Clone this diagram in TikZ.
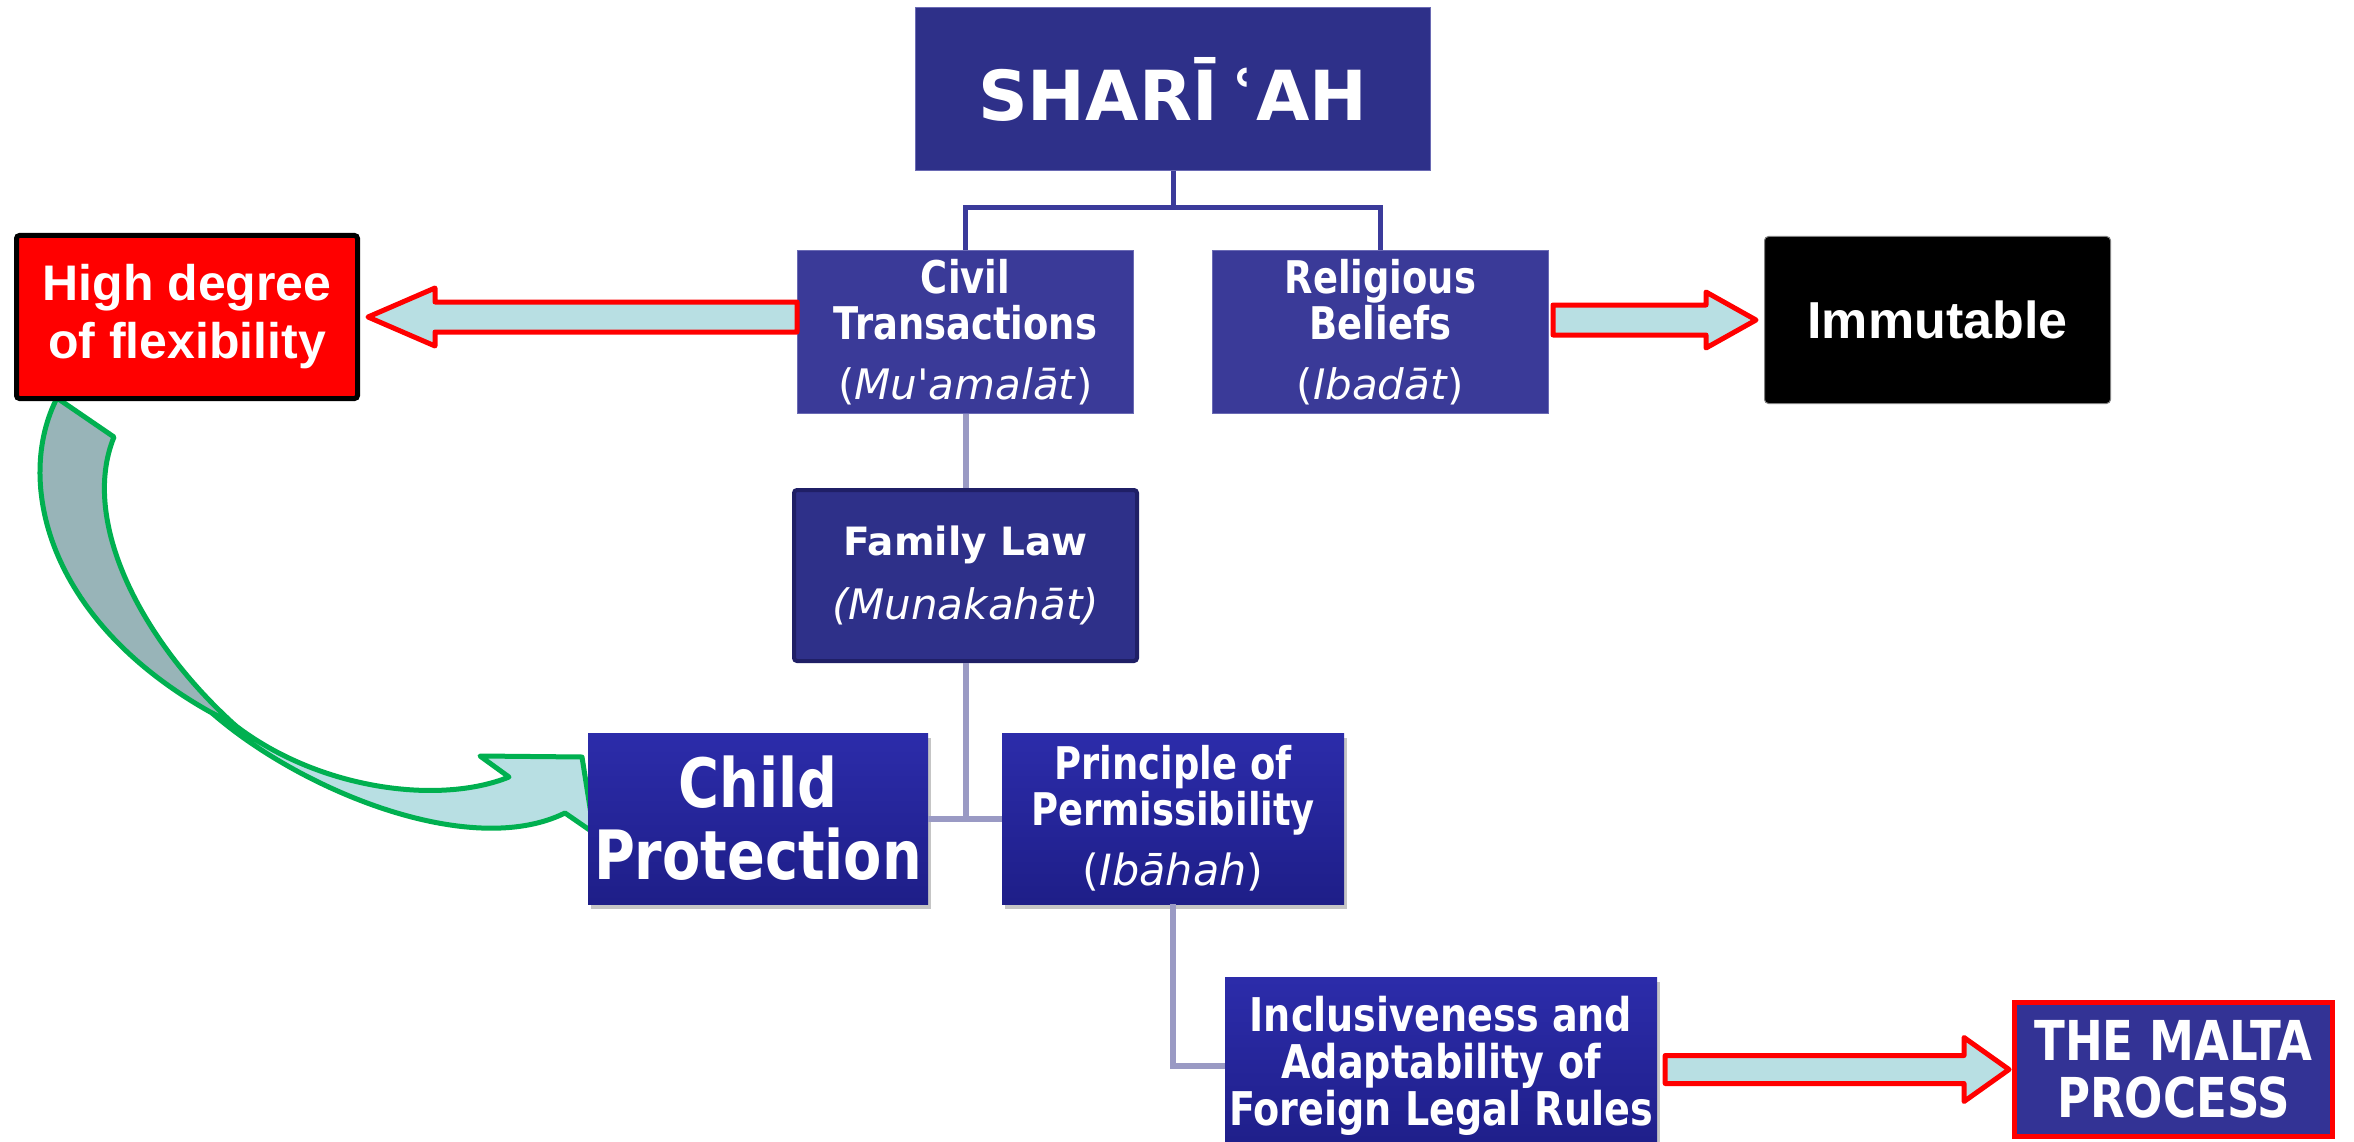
\documentclass[tikz,border=0pt]{standalone}
\usepackage{fontspec}
\setmainfont{DejaVu Sans}
\newfontfamily\narrowfont[FakeStretch=0.82]{DejaVu Sans}
\newfontfamily\plainfont{DejaVu Sans}
\newfontfamily\arialfont{Liberation Sans}
\usetikzlibrary{calc,shadows}
\definecolor{navy}{HTML}{2E3089}
\definecolor{midblue}{HTML}{3A3A98}
\definecolor{edgeblue}{HTML}{6A6AB4}
\definecolor{darkedge}{HTML}{1F1F66}
\definecolor{deeptop}{HTML}{2C2CAA}
\definecolor{deepbot}{HTML}{1E1E88}
\definecolor{maltablue}{HTML}{333395}
\definecolor{treeblue}{HTML}{3B3B9B}
\definecolor{famgray}{HTML}{9A9AC4}
\definecolor{arrowcyan}{HTML}{B8DFE3}
\definecolor{ribgray}{HTML}{98B4B8}
\definecolor{ribgreen}{HTML}{00B050}

\begin{document}
\begin{tikzpicture}[x=1pt,y=-1pt]
\tikzstyle{every node}+=[inner sep=0pt, text=white, align=center]
\tikzstyle{topbox}=[rectangle, draw=edgeblue, line width=1pt, fill=midblue, minimum width=336pt, minimum height=163pt, font=\narrowfont\bfseries\fontsize{45}{46}\selectfont]
\tikzstyle{deepbox}=[rectangle, top color=deeptop, bottom color=deepbot, minimum height=171pt, drop shadow={opacity=0.45, shadow xshift=3pt, shadow yshift=-5pt}]
\tikzstyle{treeline}=[draw=treeblue, line width=5pt]
\tikzstyle{famline}=[draw=famgray, line width=6pt]
\tikzstyle{blockarrow}=[draw=red, fill=arrowcyan, line width=5pt, line join=round]
\tikzstyle{ribbon}=[draw=ribgreen, line width=5pt, line join=round]
\path[use as bounding box, fill=white] (0,0) rectangle (2354,1142);

\filldraw[ribbon, fill=ribgray] (57,398) .. controls (15,480) and (45,620) .. (212,713) -- (236,726) .. controls (140,640) and (80,520) .. (114,437) -- cycle;
\filldraw[ribbon, fill=arrowcyan] (212,713) .. controls (300,790) and (470,860) .. (565,813) -- (594,833) -- (582,757) -- (480,756) -- (509,777) .. controls (440,805) and (320,790) .. (236,726) -- cycle;

\node (sharia) at (1173,89) [rectangle, draw=edgeblue, line width=1pt, fill=navy, minimum width=515pt, minimum height=163pt, font=\bfseries\fontsize{69}{80}\selectfont] {SHARĪ\,ʿ\hspace{2pt}AH};
\node (civil) at (965.5,332) [topbox] {Civil\\Transactions\\[14pt]{\plainfont\mdseries\fontsize{42}{46}\selectfont(\textit{Mu'amalāt})}};
\node (relig) at (1380.5,332) [topbox] {Religious\\Beliefs\\[14pt]{\plainfont\mdseries\fontsize{42}{46}\selectfont(\textit{Ibadāt})}};
\node (hdeg) at (187,317) [rectangle, draw=black, line width=5pt, fill=red, rounded corners=3pt, minimum width=341pt, minimum height=163pt, font=\arialfont\bfseries\fontsize{50}{58}\selectfont] {High degree\\of flexibility};
\node (immut) at (1937.5,320) [rectangle, draw=gray, line width=1pt, fill=black, rounded corners=4pt, minimum width=346pt, minimum height=167pt, font=\arialfont\bfseries\fontsize{52}{60}\selectfont] {Immutable};
\node (family) at (965.5,575.5) [rectangle, draw=darkedge, line width=4pt, fill=navy, rounded corners=3pt, minimum width=343pt, minimum height=171pt, font=\bfseries\fontsize{39}{64}\selectfont] {Family Law\\{\mdseries\itshape\fontsize{42}{64}\selectfont(Munakahāt)}};
\node (child) at (758,818.5) [deepbox, minimum width=340pt, font=\narrowfont\bfseries\fontsize{68}{72}\selectfont] {Child\\Protection};
\node (princ) at (1173,818.5) [deepbox, minimum width=342pt, font=\narrowfont\bfseries\fontsize{45}{46}\selectfont] {Principle of\\Permissibility\\[14pt]{\plainfont\mdseries\fontsize{43}{46}\selectfont(\textit{Ibāhah})}};
\node (incl) at (1441,1066) [deepbox, minimum width=432pt, minimum height=178pt, font=\narrowfont\bfseries\fontsize{46.5}{47}\selectfont] {Inclusiveness and\\Adaptability of\\Foreign Legal Rules};
\node (malta) at (2173.5,1069.5) [rectangle, draw=red, line width=5pt, fill=maltablue, minimum width=318pt, minimum height=134pt, font=\narrowfont\bfseries\fontsize{55}{57}\selectfont] {THE MALTA\\PROCESS};

\draw[treeline] (sharia.south) -- ++(0,37) -| (civil.north);
\draw[treeline] (sharia.south) -- ++(0,37) -| (relig.north);
\draw[famline] (civil.south) -- (family.north);
\draw[famline] (family.south) |- (child.east);
\draw[famline] (family.south) |- (princ.west);
\draw[famline] (princ.south) |- (incl.west);

\draw[blockarrow] ($(hdeg.east)+(8,0)$) -- ++(67,-29) -- ++(0,14) -- ($(civil.west |- hdeg.east)+(0,-15)$) -- ++(0,30) -- ($(hdeg.east)+(75,15)$) -- ++(0,14) -- cycle;
\draw[blockarrow] ($(relig.east |- immut.west)+(4,-15)$) -- ($(immut.west)+(-58,-15)$) -- ++(0,-13) -- ($(immut.west)+(-8,0)$) -- ($(immut.west)+(-58,28)$) -- ++(0,-13) -- ($(relig.east |- immut.west)+(4,15)$) -- cycle;
\draw[blockarrow] ($(incl.east |- malta.west)+(8,-14)$) -- ($(malta.west)+(-48,-14)$) -- ++(0,-18) -- ($(malta.west)+(-3,0)$) -- ($(malta.west)+(-48,32)$) -- ++(0,-18) -- ($(incl.east |- malta.west)+(8,14)$) -- cycle;
\end{tikzpicture}
\end{document}
